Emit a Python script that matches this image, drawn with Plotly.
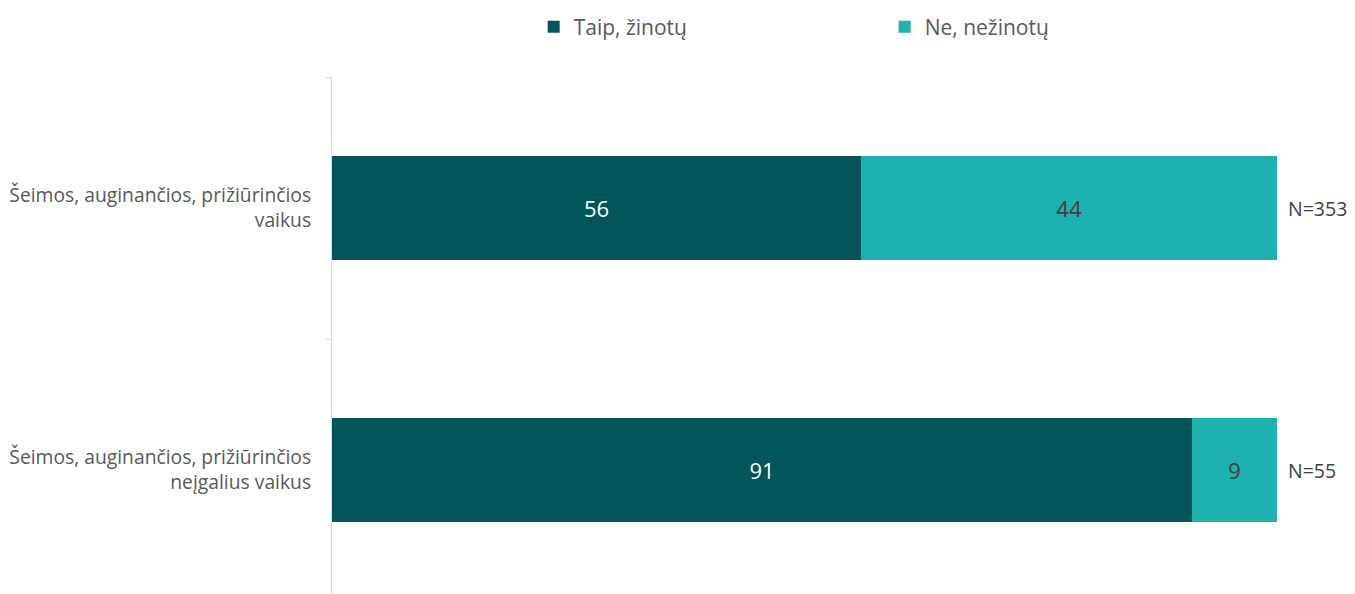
import plotly.graph_objects as go

categories = ["Šeimos, auginančios, prižiūrinčios<br>vaikus",
              "Šeimos, auginančios, prižiūrinčios<br>neįgalius vaikus"]
series_names = ["Taip, žinotų", "Ne, nežinotų"]
taip = [56, 91]
ne = [44, 9]
n_labels = ["N=353", "N=55"]

dark = "#02565A"
light = "#1DB1AF"

fig = go.Figure()
fig.add_trace(go.Bar(
    y=categories, x=taip, name=series_names[0], orientation="h",
    marker=dict(color=dark, line=dict(width=0)),
    text=taip, textposition="inside", insidetextanchor="middle",
    textfont=dict(color="#FFFFFF", size=22, family="Open Sans"),
    width=0.4,
))
fig.add_trace(go.Bar(
    y=categories, x=ne, name=series_names[1], orientation="h",
    marker=dict(color=light, line=dict(width=0)),
    text=ne, textposition="inside", insidetextanchor="middle",
    textfont=dict(color="#404040", size=22, family="Open Sans"),
    width=0.4,
))

for cat, lab in zip(categories, n_labels):
    fig.add_annotation(
        x=1, xref="paper", y=cat, yref="y", text=lab, showarrow=False,
        xanchor="left", xshift=10, borderpad=0,
        font=dict(size=19.5, color="#404040", family="Open Sans"),
    )

# page body has an 8px default margin, so the figure is sized to fit
fig.update_layout(
    width=1347, height=586,
    barmode="stack",
    plot_bgcolor="white", paper_bgcolor="white",
    margin=dict(l=324, r=78, t=69, b=0),
    showlegend=True,
    legend=dict(
        orientation="h", x=0.2134, xanchor="left",
        y=0.9676, yanchor="middle", yref="container",
        font=dict(size=21, color="#595959", family="Open Sans"),
        entrywidth=306, itemwidth=30,
        traceorder="normal",
    ),
    xaxis=dict(range=[0, 100], visible=False, fixedrange=True),
    yaxis=dict(
        type="category", categoryorder="array", categoryarray=categories,
        range=[1.473, -0.5],
        showline=True, linecolor="#D9D9D9", linewidth=1,
        ticks="outside", tickson="boundaries", ticklen=6, tickcolor="#D9D9D9",
        tickfont=dict(size=19.3, color="#595959", family="Open Sans"),
        ticklabelstandoff=16,
        showgrid=False, zeroline=False,
    ),
    font=dict(family="Open Sans"),
)

fig.write_html("out.html")
